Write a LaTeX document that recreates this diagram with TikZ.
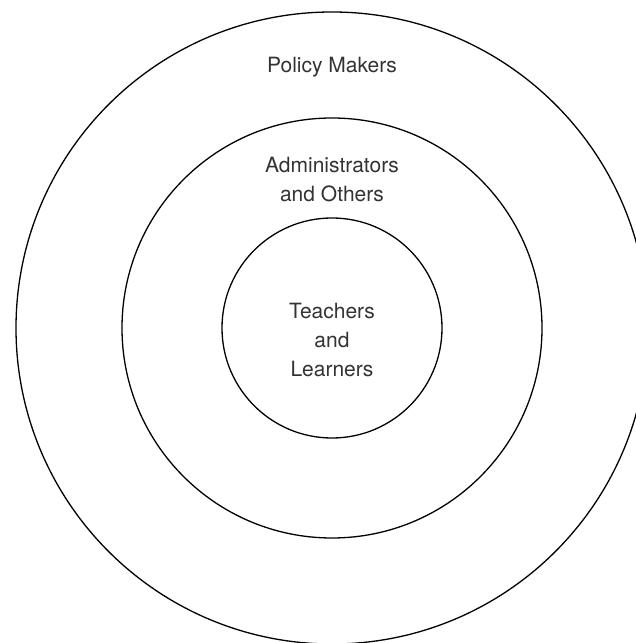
\documentclass[tikz,border=0pt]{standalone}
\usepackage{fontspec}
\setmainfont{TeX Gyre Heros}
\tikzset{
  ring/.style = {draw, circle, line width=1.3pt, inner sep=0pt, outer sep=0pt},
  lbl/.style = {align=center, text=black!80, font=\fontsize{21}{29}\selectfont, inner sep=0pt}
}
\begin{document}
\begin{tikzpicture}[x=1pt, y=1pt]
                \useasboundingbox (0,0) rectangle (636,643);
                \coordinate (mid) at (332,315);
                \node[ring, minimum size=632pt] (policy) at (mid) {};
                \node[ring, minimum size=420pt] (admin) at (mid) {};
                \node[ring, minimum size=220pt] (core) at (mid) {};
                \node[lbl, anchor=base] (policytext) at (332,570) {Policy Makers};
                \node[lbl, anchor=base] (admintext) at (332,441) {Administrators\\and Others};
                \node[lbl, anchor=base] (coretext) at (332,266) {Teachers\\and\\Learners};
\end{tikzpicture}
\end{document}
